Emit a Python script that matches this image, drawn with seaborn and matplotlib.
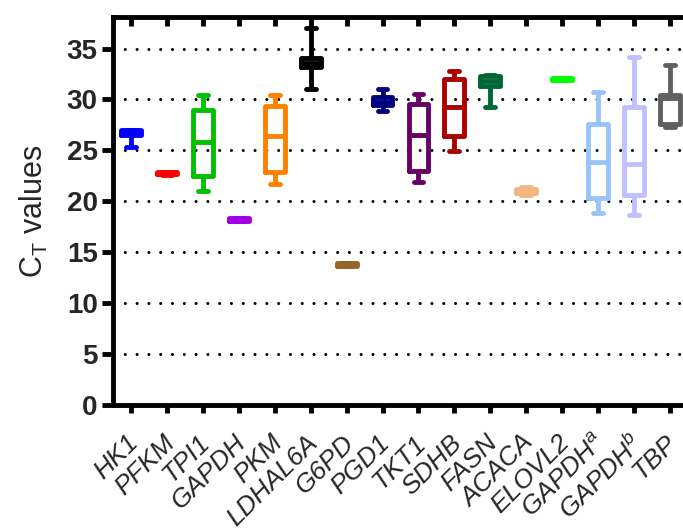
import pandas as pd
import matplotlib
matplotlib.use("Agg")
import matplotlib.pyplot as plt
import matplotlib.transforms as mtransforms
import seaborn as sns

# five-number summaries (min, q1, median, q3, max)
genes = ['HK1', 'PFKM', 'TPI1', 'GAPDH', 'PKM', 'LDHAL6A', 'G6PD', 'PGD1',
         'TKT1', 'SDHB', 'FASN', 'ACACA', 'ELOVL2', 'GAPDHa', 'GAPDHb', 'TBP']
tick_labels = ['HK1', 'PFKM', 'TPI1', 'GAPDH', 'PKM', 'LDHAL6A', 'G6PD', 'PGD1',
               'TKT1', 'SDHB', 'FASN', 'ACACA', 'ELOVL2', r'GAPDH$^{a}$',
               r'GAPDH$^{b}$', 'TBP']
ct_min = [25.3, 22.6, 21.0, 18.1, 21.7, 31.0, 13.6, 28.9, 21.9, 24.9, 29.3, 20.6, 31.9, 18.9, 18.7, 27.3]
ct_q1 = [26.5, 22.7, 22.5, 18.1, 22.9, 33.2, 13.6, 29.5, 23.0, 26.4, 31.3, 20.8, 31.9, 20.3, 20.6, 27.6]
ct_med = [26.8, 22.8, 25.8, 18.3, 26.4, 33.6, 13.7, 29.8, 26.5, 29.3, 31.8, 21.0, 32.0, 23.9, 23.7, 30.1]
ct_q3 = [27.0, 22.9, 29.0, 18.4, 29.4, 34.1, 13.9, 30.2, 29.6, 32.0, 32.3, 21.2, 32.1, 27.6, 29.3, 30.4]
ct_max = [27.0, 22.9, 30.4, 18.4, 30.4, 37.0, 13.9, 31.0, 30.5, 32.8, 32.4, 21.4, 32.1, 30.7, 34.2, 33.4]
colors = ['#0000FF', '#FF0000', '#00C000', '#A000E0', '#FF8000', '#000000',
          '#966428', '#000080', '#660066', '#AA0000', '#006633', '#F0B880',
          '#00FF00', '#99C4F8', '#C0C0FF', '#606060']

rows = []
for i, g in enumerate(genes):
    for v in (ct_min[i], ct_q1[i], ct_med[i], ct_q3[i], ct_max[i]):
        rows.append({'gene': g, 'ct': v})
df = pd.DataFrame(rows)

sns.set_style("white")
plt.rcParams['font.family'] = ['Liberation Sans', 'DejaVu Sans']
plt.rcParams['mathtext.fontset'] = 'custom'
plt.rcParams['mathtext.rm'] = 'Liberation Sans'
plt.rcParams['mathtext.it'] = 'Liberation Sans:italic'
plt.rcParams['mathtext.bf'] = 'Liberation Sans:bold'

fig = plt.figure(figsize=(6.83, 5.29), dpi=100)
ax = fig.add_axes([0.1654, 0.2344, 0.842, 0.7335])

for y in range(5, 40, 5):
    ax.axhline(y, color='black', linewidth=2.2, linestyle=(0, (0.01, 3.85)),
               dash_capstyle='round', zorder=0)

sns.boxplot(data=df, x='gene', y='ct', hue='gene', order=genes, hue_order=genes,
            palette=colors, fill=False, whis=(0, 100), width=0.55,
            linewidth=3.5, legend=False, ax=ax)

ax.set_xlim(-0.51, 15.51)
ax.set_ylim(0, 38.1)
ax.set_yticks(range(0, 40, 5))
ax.set_xticks(range(len(genes)))
ax.set_xticklabels(tick_labels, rotation=45, ha='right', rotation_mode='anchor',
                   fontsize=19, fontstyle='italic')
for lab in ax.get_yticklabels():
    lab.set_fontweight('bold')
    lab.set_fontsize(20)
ax.set_xlabel('')
ax.set_ylabel(r'C$_\mathregular{T}$ values', fontsize=22, labelpad=12)

for side in ['left', 'bottom', 'top']:
    ax.spines[side].set_linewidth(3.5)
    ax.spines[side].set_color('black')
ax.spines['right'].set_visible(False)
ax.tick_params(axis='y', direction='out', length=8, width=3.5, left=True,
               pad=3, color='black')
ax.tick_params(axis='x', direction='out', length=6, width=3.5,
               bottom=True, top=False, pad=3, color='black')

# inward tick marks hanging from the top edge at every category
ax.vlines(range(len(genes)), 0.976, 1, transform=ax.get_xaxis_transform(),
          colors='black', linewidth=3.5, clip_on=False, zorder=5)

# push the slanted labels a bit down-left, like the original
shift = mtransforms.ScaledTranslation(-5 / 100, -13 / 100, fig.dpi_scale_trans)
for lab in ax.get_xticklabels():
    lab.set_transform(lab.get_transform() + shift)

fig.savefig('out.png', dpi=100)
